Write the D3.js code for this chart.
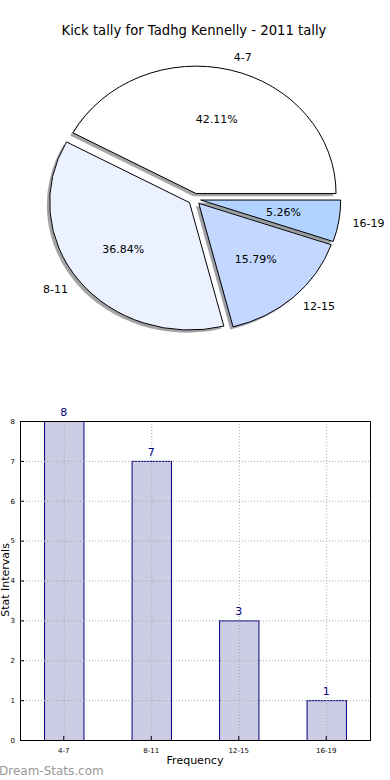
<!DOCTYPE html>
<html><head><meta charset="utf-8">
<script src="https://cdn.jsdelivr.net/npm/d3@7"></script>
<style>
html,body{margin:0;padding:0;background:#fff;}
svg{display:block;font-family:"DejaVu Sans",sans-serif;}
</style></head>
<body>
<svg id="chart" width="390" height="780"></svg>
<script>
const categories = ["4-7", "8-11", "12-15", "16-19"];
const values = [8, 7, 3, 1];
const pieColors = ["#FFFFFF", "#EBF1FF", "#C3D7FF", "#B2D3FF"];
const yTicks = [0, 1, 2, 3, 4, 5, 6, 7, 8];
const title = "Kick tally for Tadhg Kennelly - 2011 tally";

const svg = d3.select("#chart");

// ---------- Title ----------
svg.append("text").attr("x", 194).attr("y", 35).attr("text-anchor", "middle")
  .attr("font-size", 13.2).attr("fill", "#000").text(title);

// ---------- Pie ----------
const cx = 194.5, cy = 199.1, rx = 140, ry = 127.5, explode = 0.045;
const total = d3.sum(values);
const pie = d3.pie().sort(null).value(d => d)
  .startAngle(Math.PI / 2).endAngle(Math.PI / 2 - 2 * Math.PI);
const arcs = pie(values);
const arcGen = d3.arc().innerRadius(0).outerRadius(1);

function offs(a, k) { return [cx + k * rx * Math.sin(a), cy - k * ry * Math.cos(a)]; }

const pieG = svg.append("g");
// shadows first
arcs.forEach((d, i) => {
  const mid = (d.startAngle + d.endAngle) / 2;
  const [ox, oy] = offs(mid, explode);
  const c = d3.rgb(pieColors[i]);
  pieG.append("path")
    .attr("d", arcGen(d))
    .attr("transform", `translate(${ox - 2.8},${oy + 2.6}) scale(${rx},${ry})`)
    .attr("fill", d3.rgb(c.r * 0.3, c.g * 0.3, c.b * 0.3))
    .attr("fill-opacity", 0.5);
});
arcs.forEach((d, i) => {
  const mid = (d.startAngle + d.endAngle) / 2;
  const [ox, oy] = offs(mid, explode);
  pieG.append("path")
    .attr("d", arcGen(d))
    .attr("transform", `translate(${ox},${oy}) scale(${rx},${ry})`)
    .attr("fill", pieColors[i])
    .attr("stroke", "#000").attr("stroke-width", 1)
    .attr("vector-effect", "non-scaling-stroke");
});
arcs.forEach((d, i) => {
  const mid = (d.startAngle + d.endAngle) / 2;
  const [ox, oy] = offs(mid, explode);
  const sx = Math.sin(mid), sy = -Math.cos(mid);
  const lx = ox + 1.1 * rx * sx, ly = oy + 1.1 * ry * sy;
  pieG.append("text").attr("x", lx).attr("y", ly).attr("dy", "0.35em")
    .attr("text-anchor", sx > 0 ? "start" : "end")
    .attr("font-size", 11).text(categories[i]);
  const px = ox + 0.6 * rx * sx, py = oy + 0.6 * ry * sy;
  pieG.append("text").attr("x", px).attr("y", py).attr("dy", "0.35em")
    .attr("text-anchor", "middle").attr("font-size", 11)
    .text((values[i] / total * 100).toFixed(2) + "%");
});

// ---------- Bar chart ----------
const L = 20, R = 370, T = 421, B = 740;
const x = d3.scaleBand().domain(categories).range([L, R]).paddingInner(0.55).paddingOuter(0.275);
const y = d3.scaleLinear().domain([0, 8]).range([B, T]);

const g = svg.append("g");

// bars
g.selectAll(".bar").data(values).enter().append("rect")
  .attr("x", (d, i) => x(categories[i]) + 0.5)
  .attr("y", d => y(d) + 0.5)
  .attr("width", x.bandwidth())
  .attr("height", d => B - y(d))
  .attr("fill", "#CCCCE5").attr("stroke", "#000080").attr("stroke-width", 1);
// grid on top (dotted)
g.selectAll(".vg").data(categories).enter().append("line")
  .attr("x1", d => x(d) + x.bandwidth() / 2 + 0.5).attr("x2", d => x(d) + x.bandwidth() / 2 + 0.5)
  .attr("y1", T).attr("y2", B)
  .attr("stroke", "#a8a8a8").attr("stroke-width", 1).attr("stroke-dasharray", "1,2");
g.selectAll(".hg").data(yTicks).enter().append("line")
  .attr("x1", L).attr("x2", R).attr("y1", d => y(d) + 0.5).attr("y2", d => y(d) + 0.5)
  .attr("stroke", "#a8a8a8").attr("stroke-width", 1).attr("stroke-dasharray", "1,2");

// value labels
g.selectAll(".vl").data(values).enter().append("text")
  .attr("x", (d, i) => x(categories[i]) + x.bandwidth() / 2)
  .attr("y", d => y(d) - 5)
  .attr("text-anchor", "middle").attr("font-size", 11).attr("fill", "#000080")
  .text(d => d);

// axes
const yAxis = d3.axisLeft(y).tickValues(yTicks).tickSize(-4).tickPadding(5).tickFormat(d3.format("d"));
const ya = svg.append("g").attr("transform", `translate(${L},0)`).call(yAxis);
const xAxis = d3.axisBottom(x).tickSize(-4).tickPadding(8);
const xa = svg.append("g").attr("transform", `translate(0,${B})`).call(xAxis);
[ya, xa].forEach(a => {
  a.select(".domain").remove();
  a.selectAll("text").attr("font-size", 7).attr("font-family", "DejaVu Sans, sans-serif").attr("fill", "#000");
  a.selectAll("line").attr("stroke", "#000");
});
// frame
svg.append("rect").attr("x", L + 0.5).attr("y", T + 0.5).attr("width", R - L).attr("height", B - T)
  .attr("fill", "none").attr("stroke", "#000").attr("stroke-width", 1);

// axis labels
svg.append("text").attr("x", 195).attr("y", 764).attr("text-anchor", "middle")
  .attr("font-size", 11).text("Frequency");
svg.append("text").attr("transform", "translate(8.5,580) rotate(-90)")
  .attr("text-anchor", "middle").attr("font-size", 11).text("Stat Intervals");

// watermark
svg.append("text").attr("x", -1).attr("y", 775).attr("font-size", 12)
  .attr("fill", "#999999").text("Dream-Stats.com");
</script>
</body></html>
